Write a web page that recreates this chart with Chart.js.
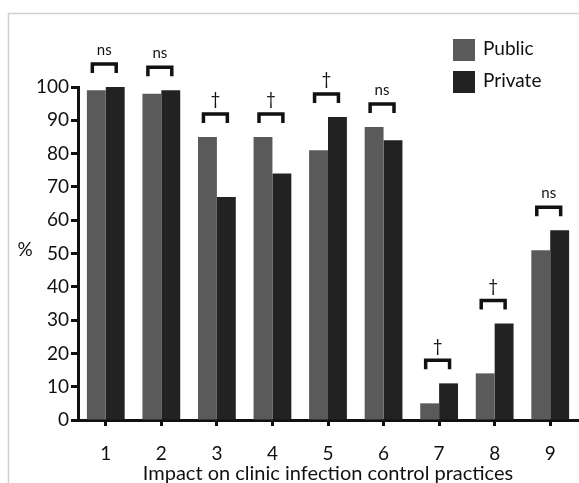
<!DOCTYPE html>
<html>
<head>
<meta charset="utf-8">
<script src="https://cdn.jsdelivr.net/npm/chart.js@4/dist/chart.umd.min.js"></script>
<style>
  html, body { margin: 0; padding: 0; background: #fff; }
  #wrap { width: 579px; height: 483px; position: relative; }
</style>
</head>
<body>
<div id="wrap"><canvas id="Canvasnya" width="579" height="483"></canvas></div>
<script>
var categories = ["1", "2", "3", "4", "5", "6", "7", "8", "9"];
var publicData = [99, 98, 85, 85, 81, 88, 5, 14, 51];
var privateData = [100, 99, 67, 74, 91, 84, 11, 29, 57];
var significance = ["ns", "ns", "\u2020", "\u2020", "\u2020", "ns", "\u2020", "\u2020", "ns"];
var yTicks = [0, 10, 20, 30, 40, 50, 60, 70, 80, 90, 100];

var FONT = "Lato, 'Open Sans', sans-serif";

// draws frame, brackets + labels, legend and the unrotated "%" title
var extras = {
    id: 'extras',
    beforeDraw: function (chart) {
        var c = chart.ctx;
        c.save();
        c.strokeStyle = '#cfcfcf';
        c.lineWidth = 1.5;
        c.beginPath();
        c.moveTo(8.5, 490);
        c.lineTo(8.5, 13.5);
        c.lineTo(590, 13.5);
        c.stroke();
        c.restore();
    },
    afterDraw: function (chart) {
        var c = chart.ctx;
        var m0 = chart.getDatasetMeta(0), m1 = chart.getDatasetMeta(1);
        c.save();
        c.strokeStyle = '#111';
        c.fillStyle = '#111';
        c.lineWidth = 3.5;
        c.textAlign = 'center';
        c.textBaseline = 'middle';
        significance.forEach(function (s, i) {
            var b0 = m0.data[i], b1 = m1.data[i];
            var x0 = b0.x - 4, x1 = b1.x + 1;
            var top = Math.min(b0.y, b1.y);
            var by = top - 23;
            c.beginPath();
            c.moveTo(x0, by + 9);
            c.lineTo(x0, by);
            c.lineTo(x1, by);
            c.lineTo(x1, by + 9);
            c.stroke();
            c.font = (s === 'ns' ? '15px ' : '17px ') + FONT;
            c.fillText(s, (x0 + x1) / 2, by - 14);
        });

        // legend
        c.textAlign = 'left';
        c.font = '19px ' + FONT;
        chart.data.datasets.forEach(function (ds, k) {
            var y = 39 + k * 32;
            c.fillStyle = ds.backgroundColor;
            c.fillRect(453, y, 22, 22);
            c.fillStyle = '#111';
            c.fillText(ds.label, 483, y + 10);
        });

        // y title
        c.textAlign = 'center';
        c.font = '19px ' + FONT;
        c.fillText('%', 25, 250);
        c.restore();
    }
};

new Chart(document.getElementById('Canvasnya').getContext('2d'), {
    type: 'bar',
    data: {
        labels: categories,
        datasets: [{
            label: 'Public',
            data: publicData,
            backgroundColor: '#5a5a5a',
            borderWidth: 0,
            categoryPercentage: 0.68,
            barPercentage: 1
        }, {
            label: 'Private',
            data: privateData,
            backgroundColor: '#222222',
            borderWidth: 0,
            categoryPercentage: 0.68,
            barPercentage: 1
        }]
    },
    options: {
        responsive: false,
        animation: false,
        layout: { padding: { top: 87, right: 1, left: 0, bottom: 0 } },
        plugins: { legend: { display: false }, tooltip: { enabled: false } },
        scales: {
            x: {
                grid: {
                    offset: false,
                    drawOnChartArea: false,
                    drawTicks: true,
                    tickLength: 6,
                    tickWidth: 3,
                    tickColor: '#111'
                },
                border: { color: '#111', width: 3 },
                ticks: { color: '#111', font: { family: FONT, size: 19 }, padding: 16 },
                title: {
                    display: true,
                    text: 'Impact on clinic infection control practices',
                    color: '#111',
                    font: { family: FONT, size: 20 },
                    padding: { top: 0, bottom: -3 }
                },
                afterFit: function (s) { s.height = 63; }
            },
            y: {
                min: 0,
                max: 100,
                afterBuildTicks: function (s) { s.ticks = yTicks.map(function (v) { return { value: v }; }); },
                grid: {
                    drawOnChartArea: false,
                    drawTicks: true,
                    tickLength: 7,
                    tickWidth: 3,
                    tickColor: '#111'
                },
                border: { color: '#111', width: 3 },
                ticks: { color: '#111', font: { family: FONT, size: 19 }, padding: 2 },
                afterFit: function (s) { s.width = 78; }
            }
        }
    },
    plugins: [extras]
});
</script>
</body>
</html>
